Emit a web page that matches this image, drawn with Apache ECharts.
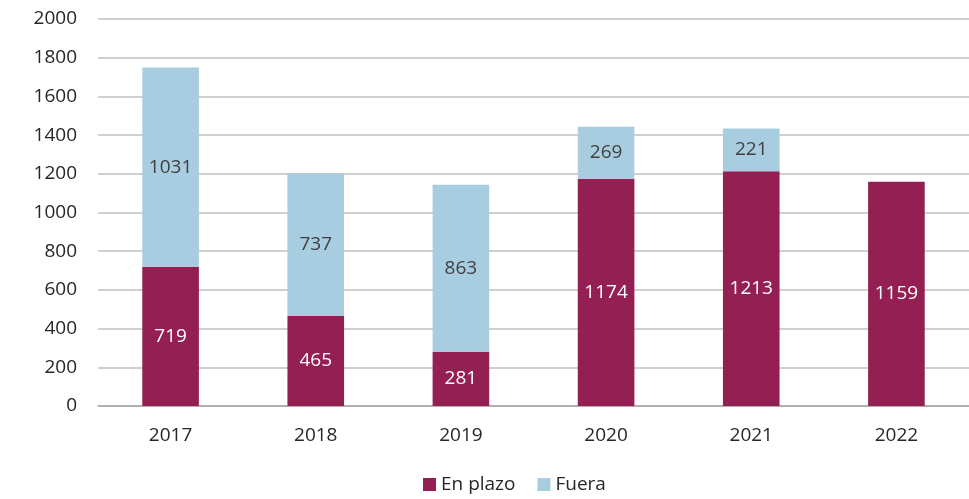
<!DOCTYPE html>
<html>
<head>
<meta charset="utf-8">
<script src="https://cdn.jsdelivr.net/npm/echarts@6/dist/echarts.min.js"></script>
<style>
  html, body { margin: 0; padding: 0; background: #fff; }
  #chart { width: 969px; height: 499px; }
</style>
</head>
<body>
<div id="chart"></div>
<script>
// datos
const years = ['2017', '2018', '2019', '2020', '2021', '2022']
const enPlazo = [719, 465, 281, 1174, 1213, 1159]
const fuera = [1031, 737, 863, 269, 221, null]
const yTicks = [0, 200, 400, 600, 800, 1000, 1200, 1400, 1600, 1800, 2000]

const font = 'Open Sans, Liberation Sans, sans-serif'

const chart = echarts.init(document.getElementById('chart'))

const option = {
  animation: false,
  textStyle: { fontFamily: font },
  grid: {
    left: 98,
    right: -6,
    top: 19,
    bottom: 93
  },
  legend: {
    data: ['En plazo', 'Fuera'],
    bottom: 0,
    left: 418,
    icon: 'rect',
    itemWidth: 13,
    itemHeight: 13,
    itemGap: 22,
    textStyle: { fontSize: 19, color: '#262626', fontFamily: font }
  },
  xAxis: {
    type: 'category',
    data: years,
    axisTick: { show: false },
    axisLine: { lineStyle: { color: '#a6a6a6', width: 1.5 } },
    axisLabel: { fontSize: 19, color: '#262626', margin: 20, fontFamily: font }
  },
  yAxis: {
    type: 'value',
    min: yTicks[0],
    max: yTicks[yTicks.length - 1],
    interval: 200,
    axisLine: { show: false },
    axisTick: { show: false },
    splitLine: { lineStyle: { color: '#bfbfbf', width: 1.5 } },
    axisLabel: {
      fontSize: 19,
      color: '#262626',
      margin: 21,
      fontFamily: font,
      formatter: (v) => String(v)
    }
  },
  series: [
    {
      name: 'En plazo',
      type: 'bar',
      stack: 'total',
      barWidth: '39%',
      data: enPlazo,
      itemStyle: { color: '#941f52' },
      label: {
        show: true,
        position: 'inside',
        color: '#ffffff',
        fontSize: 19,
        fontFamily: font
      }
    },
    {
      name: 'Fuera',
      type: 'bar',
      stack: 'total',
      barWidth: '39%',
      data: fuera,
      itemStyle: { color: '#a8cce0' },
      label: {
        show: true,
        position: 'inside',
        color: '#404040',
        fontSize: 19,
        fontFamily: font
      }
    }
  ]
}

chart.setOption(option)
</script>
</body>
</html>
